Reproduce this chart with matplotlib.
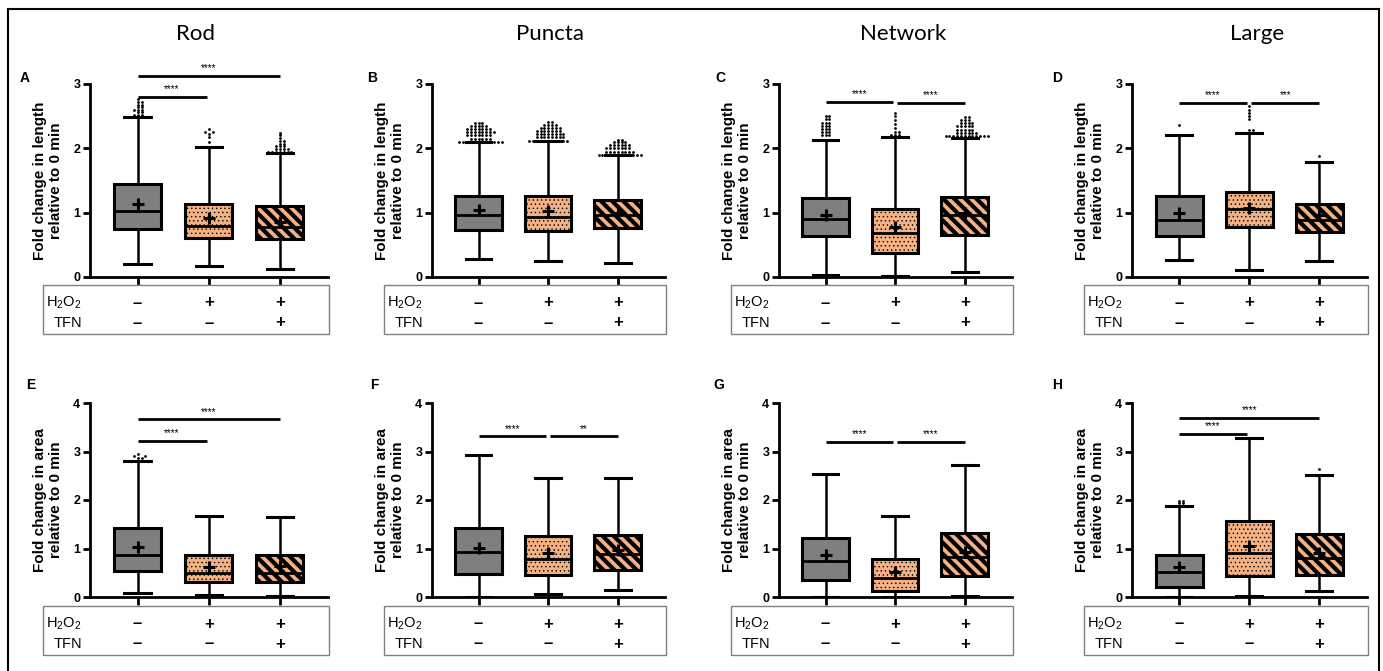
import matplotlib.pyplot as plt
import numpy as np
from matplotlib.patches import Rectangle
from matplotlib.lines import Line2D
from matplotlib.transforms import blended_transform_factory

plt.rcParams['font.family'] = ['Liberation Sans', 'DejaVu Sans']
plt.rcParams['mathtext.fontset'] = 'custom'
plt.rcParams['mathtext.rm'] = 'Liberation Sans'
plt.rcParams['hatch.linewidth'] = 3.0

W, H = 1383, 671

titles = ['Rod', 'Puncta', 'Network', 'Large']
letters = ['A', 'B', 'C', 'D', 'E', 'F', 'G', 'H']
h2o2 = ['–', '+', '+']
tfn = ['–', '–', '+']
ylab_len = 'Fold change in length\nrelative to 0 min'
ylab_area = 'Fold change in area\nrelative to 0 min'

# each box: whislo, q1, median, q3, whishi, mean
rod_len = [[0.20, 0.75, 1.02, 1.44, 2.48, 1.13],
           [0.17, 0.60, 0.79, 1.14, 2.02, 0.91],
           [0.13, 0.59, 0.78, 1.10, 1.92, 0.85]]
puncta_len = [[0.28, 0.73, 0.97, 1.26, 2.10, 1.04],
              [0.25, 0.71, 0.94, 1.26, 2.11, 1.02],
              [0.21, 0.76, 0.96, 1.20, 1.89, 1.00]]
network_len = [[0.03, 0.63, 0.90, 1.23, 2.13, 0.96],
               [0.02, 0.38, 0.69, 1.06, 2.18, 0.77],
               [0.08, 0.66, 0.96, 1.25, 2.16, 0.99]]
large_len = [[0.27, 0.64, 0.89, 1.26, 2.21, 0.99],
             [0.11, 0.77, 1.05, 1.32, 2.24, 1.07],
             [0.25, 0.70, 0.89, 1.13, 1.79, 0.96]]
rod_area = [[0.08, 0.53, 0.87, 1.42, 2.80, 1.03],
            [0.05, 0.30, 0.49, 0.86, 1.68, 0.61],
            [0.03, 0.31, 0.50, 0.86, 1.64, 0.63]]
puncta_area = [[0.01, 0.48, 0.93, 1.43, 2.92, 1.01],
               [0.06, 0.46, 0.79, 1.25, 2.46, 0.91],
               [0.14, 0.55, 0.88, 1.28, 2.45, 0.97]]
network_area = [[0.01, 0.36, 0.74, 1.22, 2.54, 0.86],
                [0.01, 0.12, 0.39, 0.78, 1.66, 0.51],
                [0.03, 0.43, 0.82, 1.32, 2.72, 0.93]]
large_area = [[0.01, 0.21, 0.51, 0.86, 1.88, 0.61],
              [0.03, 0.43, 0.90, 1.56, 3.27, 1.05],
              [0.13, 0.45, 0.81, 1.29, 2.51, 0.90]]

# outliers as (value, how many points at that level)
rod_len_out = [[(2.52, 3), (2.56, 2), (2.60, 3), (2.64, 2), (2.68, 2), (2.72, 2), (2.76, 1)],
               [(2.10, 1), (2.18, 1), (2.22, 1), (2.26, 2), (2.30, 1)],
               [(1.95, 7), (1.99, 4), (2.03, 3), (2.07, 2), (2.12, 2), (2.16, 1), (2.20, 1), (2.24, 1)]]
puncta_len_out = [[(2.10, 12), (2.15, 6), (2.20, 7), (2.25, 8), (2.30, 7), (2.35, 5), (2.40, 3)],
                  [(2.12, 11), (2.17, 8), (2.22, 8), (2.27, 7), (2.32, 6), (2.37, 4), (2.41, 2)],
                  [(1.90, 12), (1.95, 8), (2.00, 7), (2.05, 6), (2.10, 4), (2.13, 2)]]
network_len_out = [[(2.20, 3), (2.25, 3), (2.30, 3), (2.35, 3), (2.40, 3), (2.45, 2), (2.50, 2)],
                   [(2.21, 3), (2.26, 2), (2.32, 1), (2.38, 1), (2.44, 1), (2.50, 1), (2.55, 1)],
                   [(2.19, 12), (2.24, 6), (2.29, 5), (2.34, 5), (2.39, 4), (2.44, 3), (2.49, 2)]]
large_len_out = [[(2.36, 1)],
                 [(2.28, 2), (2.45, 1), (2.50, 1), (2.55, 1), (2.60, 1), (2.66, 1)],
                 [(1.88, 1)]]
rod_area_out = [[(2.86, 2), (2.90, 2), (2.94, 1)], [], []]
puncta_area_out = [[], [], []]
network_area_out = [[], [], []]
large_area_out = [[(1.93, 2), (1.97, 2)], [], [(2.63, 1)]]

# significance: (group a, group b, bar height, label)
rod_len_sig = [(0, 1, 2.80, '****'), (0, 2, 3.12, '****')]
puncta_len_sig = []
network_len_sig = [(0, 1, 2.72, '****'), (1, 2, 2.71, '****')]
large_len_sig = [(0, 1, 2.71, '****'), (1, 2, 2.71, '***')]
rod_area_sig = [(0, 1, 3.22, '****'), (0, 2, 3.66, '****')]
puncta_area_sig = [(0, 1, 3.31, '****'), (1, 2, 3.31, '**')]
network_area_sig = [(0, 1, 3.20, '****'), (1, 2, 3.20, '****')]
large_area_sig = [(0, 1, 3.37, '****'), (0, 2, 3.69, '****')]

panels = [
    (rod_len, rod_len_out, rod_len_sig), (puncta_len, puncta_len_out, puncta_len_sig),
    (network_len, network_len_out, network_len_sig), (large_len, large_len_out, large_len_sig),
    (rod_area, rod_area_out, rod_area_sig), (puncta_area, puncta_area_out, puncta_area_sig),
    (network_area, network_area_out, network_area_sig), (large_area, large_area_out, large_area_sig),
]

box_colors = ['#7f7f7f', '#f4b183', '#f4b183']
box_hatches = [None, '....', '\\\\\\']
hatch_lws = [1.0, 0.5, 3.0]

# layout in pixels
col_l = [90, 432, 779, 1132]
col_r = [328, 665, 1012, 1367]
row_t = [84, 403]
row_b = [277, 597]
tab_l = [43, 384, 731, 1084]
tab_t = [285, 606]
tab_h = 49
title_x = [196, 550, 903, 1257]
letter_x = [20, 367, 715, 1052, 26, 370, 713, 1052]
letter_y = [78, 385]


def fx(px):
    return px / W


def fy(py):
    return 1 - py / H


def swarm(vals, step):
    # spread points that sit at the same level sideways
    counts = {}
    offs = []
    for v in vals:
        b = round(v / 0.04)
        k = counts.get(b, 0)
        counts[b] = k + 1
        offs.append(((k + 1) // 2) * step * (1 if k % 2 else -1))
    return np.array(offs)


fig = plt.figure(figsize=(W / 100, H / 100), dpi=100)

for idx, (stats_raw, outs, sigs) in enumerate(panels):
    r, c = divmod(idx, 4)
    ymax = 3 if r == 0 else 4
    ax = fig.add_axes([fx(col_l[c]), fy(row_b[r]), fx(col_r[c] - col_l[c]),
                       (row_b[r] - row_t[r]) / H])
    stats = []
    for s in stats_raw:
        stats.append(dict(whislo=s[0], q1=s[1], med=s[2], q3=s[3], whishi=s[4],
                          mean=s[5], fliers=[]))
    bp = ax.bxp(stats, positions=[0, 1, 2], widths=0.67, capwidths=0.37,
                patch_artist=True, showmeans=True, showfliers=False,
                boxprops=dict(linewidth=2.2, edgecolor='k'),
                medianprops=dict(color='k', linewidth=2),
                whiskerprops=dict(color='k', linewidth=1.8),
                capprops=dict(color='k', linewidth=2.2),
                meanprops=dict(marker='+', markersize=8, markeredgewidth=2.2,
                               markeredgecolor='k'))
    for patch, fc, hatch, hlw in zip(bp['boxes'], box_colors, box_hatches, hatch_lws):
        patch.set_facecolor(fc)
        patch.set_hatch(hatch)
        if hasattr(patch, 'set_hatch_linewidth'):
            patch.set_hatch_linewidth(hlw)

    for pos, out in enumerate(outs):
        if not out:
            continue
        vals = np.repeat([o[0] for o in out], [o[1] for o in out])
        ax.plot(pos + swarm(vals, 0.055), vals, 'o', ms=2, color='k', mew=0,
                clip_on=False, zorder=3)

    for a, b, y, lab in sigs:
        x0 = a + (0.03 if a > 0 else 0)
        x1 = b - (0.03 if b < 2 else 0)
        ax.plot([x0, x1], [y, y], color='k', lw=2, clip_on=False, solid_capstyle='butt')
        ax.annotate(lab, ((x0 + x1) / 2, y), xytext=(0, 2), textcoords='offset points',
                    ha='center', va='bottom', fontsize=7, annotation_clip=False)

    ax.set_xlim(-0.67, 2.68)
    ax.set_ylim(0, ymax)
    for sp in ['top', 'right']:
        ax.spines[sp].set_visible(False)
    for sp in ['left', 'bottom']:
        ax.spines[sp].set_linewidth(2)
    ax.set_yticks(range(ymax + 1))
    ax.set_xticks([0, 1, 2])
    ax.set_xticklabels([])
    ax.tick_params(axis='y', width=2, length=5, labelsize=9, pad=2)
    ax.tick_params(axis='x', width=2, length=6)
    for lbl in ax.get_yticklabels():
        lbl.set_fontweight('bold')
    ax.set_ylabel(ylab_len if r == 0 else ylab_area, fontsize=11, fontweight='bold',
                  linespacing=1.15)
    ax.yaxis.set_label_coords(-27 / (col_r[c] - col_l[c]), 0.5)

    # condition table under the axis
    fig.add_artist(Rectangle((fx(tab_l[c]), fy(tab_t[r] + tab_h)),
                             fx(col_r[c] + 1 - tab_l[c]), tab_h / H,
                             transform=fig.transFigure, fill=False,
                             edgecolor='#808080', linewidth=1))
    fig.text(fx(tab_l[c] + 39), fy(tab_t[r] + 18), r'H$_2$O$_2$', ha='right',
             va='center', fontsize=10.5)
    fig.text(fx(tab_l[c] + 39), fy(tab_t[r] + 38), 'TFN', ha='right',
             va='center', fontsize=10.5)
    trans = blended_transform_factory(ax.transData, fig.transFigure)
    for i in range(3):
        for sign, dy in [(h2o2[i], 18), (tfn[i], 38)]:
            ax.text(i, fy(tab_t[r] + dy), sign, transform=trans, ha='center',
                    va='center', fontsize=12, fontweight='bold')

    fig.text(fx(letter_x[idx]), fy(letter_y[r]), letters[idx], fontsize=10,
             fontweight='bold', ha='left', va='center')

for c in range(4):
    fig.text(fx(title_x[c]), fy(34), titles[c], ha='center', va='center',
             fontsize=16, family=['Lato', 'DejaVu Sans'])

# outer frame
for xs, ys in [([8, 8], [9, 680]), ([8, 1379], [9, 9]), ([1379, 1379], [9, 680])]:
    fig.add_artist(Line2D([fx(x) for x in xs], [fy(y) for y in ys],
                          transform=fig.transFigure, color='k', lw=1.5))

fig.savefig('out.png', dpi=100)
